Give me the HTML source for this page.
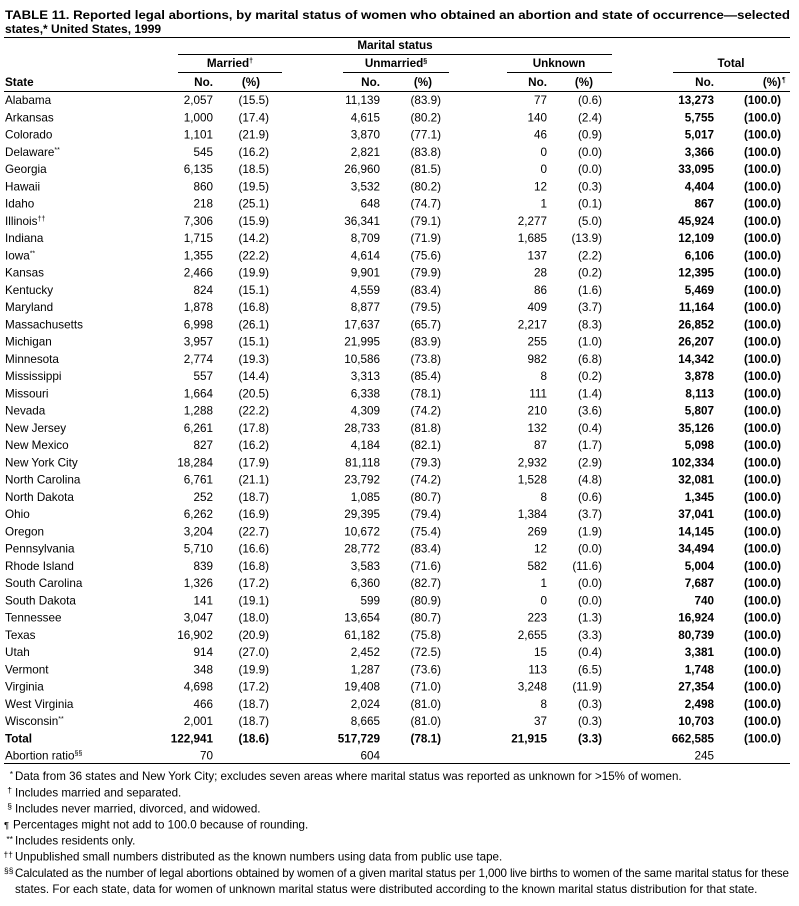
<!DOCTYPE html>
<html><head><meta charset="utf-8"><style>
html,body{margin:0;padding:0;background:#fff}
svg{display:block}
text{font-family:"Liberation Sans",Arial,sans-serif;font-size:11.7px;fill:#000}
.b{font-weight:bold}
.e{text-anchor:end}
.m{text-anchor:middle}
.s{font-size:7px}
.f{font-size:11.6px}
</style></head><body>
<svg width="799" height="906" viewBox="0 0 799 906" xmlns="http://www.w3.org/2000/svg">
<rect width="799" height="906" fill="#fff"/>
<text class="b" x="5" y="19" style="font-size:12px" textLength="785" lengthAdjust="spacingAndGlyphs">TABLE 11. Reported legal abortions, by marital status of women who obtained an abortion and state of occurrence—selected</text>
<text class="b" x="5" y="33" style="font-size:12px">states,* United States, 1999</text>
<rect x="4" y="37" width="786" height="1" fill="#000"/>
<text class="b m" x="395" y="49">Marital status</text>
<rect x="178" y="54" width="434" height="1" fill="#000"/>
<text class="b m" x="230" y="67">Married<tspan class="s" dy="-4">†</tspan></text>
<text class="b m" x="396" y="67">Unmarried<tspan class="s" dy="-4">§</tspan></text>
<text class="b m" x="559" y="67">Unknown</text>
<text class="b m" x="731" y="67">Total</text>
<rect x="178" y="72" width="104" height="1" fill="#000"/>
<rect x="343" y="72" width="106" height="1" fill="#000"/>
<rect x="507" y="72" width="105" height="1" fill="#000"/>
<rect x="673" y="72" width="117" height="1" fill="#000"/>
<g transform="translate(0,86)">
<text class="b" x="5">State</text>
<text class="b e" x="213">No.</text><text class="b e" x="260">(%)</text>
<text class="b e" x="380">No.</text><text class="b e" x="432">(%)</text>
<text class="b e" x="547">No.</text><text class="b e" x="593">(%)</text>
<text class="b e" x="714">No.</text><text class="b e" x="781">(%)</text><text class="s" x="782" y="-4">¶</text>
</g>
<rect x="4" y="91" width="786" height="1" fill="#000"/>

<g transform="translate(0,104.2)"><text x="5">Alabama</text><text class="e" x="213">2,057</text><text class="e" x="269">(15.5)</text><text class="e" x="380">11,139</text><text class="e" x="441">(83.9)</text><text class="e" x="547">77</text><text class="e" x="602">(0.6)</text><text class="e b" x="714">13,273</text><text class="e b" x="781">(100.0)</text></g>
<g transform="translate(0,121.45)"><text x="5">Arkansas</text><text class="e" x="213">1,000</text><text class="e" x="269">(17.4)</text><text class="e" x="380">4,615</text><text class="e" x="441">(80.2)</text><text class="e" x="547">140</text><text class="e" x="602">(2.4)</text><text class="e b" x="714">5,755</text><text class="e b" x="781">(100.0)</text></g>
<g transform="translate(0,138.7)"><text x="5">Colorado</text><text class="e" x="213">1,101</text><text class="e" x="269">(21.9)</text><text class="e" x="380">3,870</text><text class="e" x="441">(77.1)</text><text class="e" x="547">46</text><text class="e" x="602">(0.9)</text><text class="e b" x="714">5,017</text><text class="e b" x="781">(100.0)</text></g>
<g transform="translate(0,155.95)"><text x="5">Delaware<tspan class="s" dy="-4">**</tspan></text><text class="e" x="213">545</text><text class="e" x="269">(16.2)</text><text class="e" x="380">2,821</text><text class="e" x="441">(83.8)</text><text class="e" x="547">0</text><text class="e" x="602">(0.0)</text><text class="e b" x="714">3,366</text><text class="e b" x="781">(100.0)</text></g>
<g transform="translate(0,173.2)"><text x="5">Georgia</text><text class="e" x="213">6,135</text><text class="e" x="269">(18.5)</text><text class="e" x="380">26,960</text><text class="e" x="441">(81.5)</text><text class="e" x="547">0</text><text class="e" x="602">(0.0)</text><text class="e b" x="714">33,095</text><text class="e b" x="781">(100.0)</text></g>
<g transform="translate(0,190.45)"><text x="5">Hawaii</text><text class="e" x="213">860</text><text class="e" x="269">(19.5)</text><text class="e" x="380">3,532</text><text class="e" x="441">(80.2)</text><text class="e" x="547">12</text><text class="e" x="602">(0.3)</text><text class="e b" x="714">4,404</text><text class="e b" x="781">(100.0)</text></g>
<g transform="translate(0,207.7)"><text x="5">Idaho</text><text class="e" x="213">218</text><text class="e" x="269">(25.1)</text><text class="e" x="380">648</text><text class="e" x="441">(74.7)</text><text class="e" x="547">1</text><text class="e" x="602">(0.1)</text><text class="e b" x="714">867</text><text class="e b" x="781">(100.0)</text></g>
<g transform="translate(0,224.95)"><text x="5">Illinois<tspan class="s" dy="-4">††</tspan></text><text class="e" x="213">7,306</text><text class="e" x="269">(15.9)</text><text class="e" x="380">36,341</text><text class="e" x="441">(79.1)</text><text class="e" x="547">2,277</text><text class="e" x="602">(5.0)</text><text class="e b" x="714">45,924</text><text class="e b" x="781">(100.0)</text></g>
<g transform="translate(0,242.2)"><text x="5">Indiana</text><text class="e" x="213">1,715</text><text class="e" x="269">(14.2)</text><text class="e" x="380">8,709</text><text class="e" x="441">(71.9)</text><text class="e" x="547">1,685</text><text class="e" x="602">(13.9)</text><text class="e b" x="714">12,109</text><text class="e b" x="781">(100.0)</text></g>
<g transform="translate(0,259.45)"><text x="5">Iowa<tspan class="s" dy="-4">**</tspan></text><text class="e" x="213">1,355</text><text class="e" x="269">(22.2)</text><text class="e" x="380">4,614</text><text class="e" x="441">(75.6)</text><text class="e" x="547">137</text><text class="e" x="602">(2.2)</text><text class="e b" x="714">6,106</text><text class="e b" x="781">(100.0)</text></g>
<g transform="translate(0,276.7)"><text x="5">Kansas</text><text class="e" x="213">2,466</text><text class="e" x="269">(19.9)</text><text class="e" x="380">9,901</text><text class="e" x="441">(79.9)</text><text class="e" x="547">28</text><text class="e" x="602">(0.2)</text><text class="e b" x="714">12,395</text><text class="e b" x="781">(100.0)</text></g>
<g transform="translate(0,293.95)"><text x="5">Kentucky</text><text class="e" x="213">824</text><text class="e" x="269">(15.1)</text><text class="e" x="380">4,559</text><text class="e" x="441">(83.4)</text><text class="e" x="547">86</text><text class="e" x="602">(1.6)</text><text class="e b" x="714">5,469</text><text class="e b" x="781">(100.0)</text></g>
<g transform="translate(0,311.2)"><text x="5">Maryland</text><text class="e" x="213">1,878</text><text class="e" x="269">(16.8)</text><text class="e" x="380">8,877</text><text class="e" x="441">(79.5)</text><text class="e" x="547">409</text><text class="e" x="602">(3.7)</text><text class="e b" x="714">11,164</text><text class="e b" x="781">(100.0)</text></g>
<g transform="translate(0,328.45)"><text x="5">Massachusetts</text><text class="e" x="213">6,998</text><text class="e" x="269">(26.1)</text><text class="e" x="380">17,637</text><text class="e" x="441">(65.7)</text><text class="e" x="547">2,217</text><text class="e" x="602">(8.3)</text><text class="e b" x="714">26,852</text><text class="e b" x="781">(100.0)</text></g>
<g transform="translate(0,345.7)"><text x="5">Michigan</text><text class="e" x="213">3,957</text><text class="e" x="269">(15.1)</text><text class="e" x="380">21,995</text><text class="e" x="441">(83.9)</text><text class="e" x="547">255</text><text class="e" x="602">(1.0)</text><text class="e b" x="714">26,207</text><text class="e b" x="781">(100.0)</text></g>
<g transform="translate(0,362.95)"><text x="5">Minnesota</text><text class="e" x="213">2,774</text><text class="e" x="269">(19.3)</text><text class="e" x="380">10,586</text><text class="e" x="441">(73.8)</text><text class="e" x="547">982</text><text class="e" x="602">(6.8)</text><text class="e b" x="714">14,342</text><text class="e b" x="781">(100.0)</text></g>
<g transform="translate(0,380.2)"><text x="5">Mississippi</text><text class="e" x="213">557</text><text class="e" x="269">(14.4)</text><text class="e" x="380">3,313</text><text class="e" x="441">(85.4)</text><text class="e" x="547">8</text><text class="e" x="602">(0.2)</text><text class="e b" x="714">3,878</text><text class="e b" x="781">(100.0)</text></g>
<g transform="translate(0,397.45)"><text x="5">Missouri</text><text class="e" x="213">1,664</text><text class="e" x="269">(20.5)</text><text class="e" x="380">6,338</text><text class="e" x="441">(78.1)</text><text class="e" x="547">111</text><text class="e" x="602">(1.4)</text><text class="e b" x="714">8,113</text><text class="e b" x="781">(100.0)</text></g>
<g transform="translate(0,414.7)"><text x="5">Nevada</text><text class="e" x="213">1,288</text><text class="e" x="269">(22.2)</text><text class="e" x="380">4,309</text><text class="e" x="441">(74.2)</text><text class="e" x="547">210</text><text class="e" x="602">(3.6)</text><text class="e b" x="714">5,807</text><text class="e b" x="781">(100.0)</text></g>
<g transform="translate(0,431.95)"><text x="5">New Jersey</text><text class="e" x="213">6,261</text><text class="e" x="269">(17.8)</text><text class="e" x="380">28,733</text><text class="e" x="441">(81.8)</text><text class="e" x="547">132</text><text class="e" x="602">(0.4)</text><text class="e b" x="714">35,126</text><text class="e b" x="781">(100.0)</text></g>
<g transform="translate(0,449.2)"><text x="5">New Mexico</text><text class="e" x="213">827</text><text class="e" x="269">(16.2)</text><text class="e" x="380">4,184</text><text class="e" x="441">(82.1)</text><text class="e" x="547">87</text><text class="e" x="602">(1.7)</text><text class="e b" x="714">5,098</text><text class="e b" x="781">(100.0)</text></g>
<g transform="translate(0,466.45)"><text x="5">New York City</text><text class="e" x="213">18,284</text><text class="e" x="269">(17.9)</text><text class="e" x="380">81,118</text><text class="e" x="441">(79.3)</text><text class="e" x="547">2,932</text><text class="e" x="602">(2.9)</text><text class="e b" x="714">102,334</text><text class="e b" x="781">(100.0)</text></g>
<g transform="translate(0,483.7)"><text x="5">North Carolina</text><text class="e" x="213">6,761</text><text class="e" x="269">(21.1)</text><text class="e" x="380">23,792</text><text class="e" x="441">(74.2)</text><text class="e" x="547">1,528</text><text class="e" x="602">(4.8)</text><text class="e b" x="714">32,081</text><text class="e b" x="781">(100.0)</text></g>
<g transform="translate(0,500.95)"><text x="5">North Dakota</text><text class="e" x="213">252</text><text class="e" x="269">(18.7)</text><text class="e" x="380">1,085</text><text class="e" x="441">(80.7)</text><text class="e" x="547">8</text><text class="e" x="602">(0.6)</text><text class="e b" x="714">1,345</text><text class="e b" x="781">(100.0)</text></g>
<g transform="translate(0,518.2)"><text x="5">Ohio</text><text class="e" x="213">6,262</text><text class="e" x="269">(16.9)</text><text class="e" x="380">29,395</text><text class="e" x="441">(79.4)</text><text class="e" x="547">1,384</text><text class="e" x="602">(3.7)</text><text class="e b" x="714">37,041</text><text class="e b" x="781">(100.0)</text></g>
<g transform="translate(0,535.45)"><text x="5">Oregon</text><text class="e" x="213">3,204</text><text class="e" x="269">(22.7)</text><text class="e" x="380">10,672</text><text class="e" x="441">(75.4)</text><text class="e" x="547">269</text><text class="e" x="602">(1.9)</text><text class="e b" x="714">14,145</text><text class="e b" x="781">(100.0)</text></g>
<g transform="translate(0,552.7)"><text x="5">Pennsylvania</text><text class="e" x="213">5,710</text><text class="e" x="269">(16.6)</text><text class="e" x="380">28,772</text><text class="e" x="441">(83.4)</text><text class="e" x="547">12</text><text class="e" x="602">(0.0)</text><text class="e b" x="714">34,494</text><text class="e b" x="781">(100.0)</text></g>
<g transform="translate(0,569.95)"><text x="5">Rhode Island</text><text class="e" x="213">839</text><text class="e" x="269">(16.8)</text><text class="e" x="380">3,583</text><text class="e" x="441">(71.6)</text><text class="e" x="547">582</text><text class="e" x="602">(11.6)</text><text class="e b" x="714">5,004</text><text class="e b" x="781">(100.0)</text></g>
<g transform="translate(0,587.2)"><text x="5">South Carolina</text><text class="e" x="213">1,326</text><text class="e" x="269">(17.2)</text><text class="e" x="380">6,360</text><text class="e" x="441">(82.7)</text><text class="e" x="547">1</text><text class="e" x="602">(0.0)</text><text class="e b" x="714">7,687</text><text class="e b" x="781">(100.0)</text></g>
<g transform="translate(0,604.45)"><text x="5">South Dakota</text><text class="e" x="213">141</text><text class="e" x="269">(19.1)</text><text class="e" x="380">599</text><text class="e" x="441">(80.9)</text><text class="e" x="547">0</text><text class="e" x="602">(0.0)</text><text class="e b" x="714">740</text><text class="e b" x="781">(100.0)</text></g>
<g transform="translate(0,621.7)"><text x="5">Tennessee</text><text class="e" x="213">3,047</text><text class="e" x="269">(18.0)</text><text class="e" x="380">13,654</text><text class="e" x="441">(80.7)</text><text class="e" x="547">223</text><text class="e" x="602">(1.3)</text><text class="e b" x="714">16,924</text><text class="e b" x="781">(100.0)</text></g>
<g transform="translate(0,638.95)"><text x="5">Texas</text><text class="e" x="213">16,902</text><text class="e" x="269">(20.9)</text><text class="e" x="380">61,182</text><text class="e" x="441">(75.8)</text><text class="e" x="547">2,655</text><text class="e" x="602">(3.3)</text><text class="e b" x="714">80,739</text><text class="e b" x="781">(100.0)</text></g>
<g transform="translate(0,656.2)"><text x="5">Utah</text><text class="e" x="213">914</text><text class="e" x="269">(27.0)</text><text class="e" x="380">2,452</text><text class="e" x="441">(72.5)</text><text class="e" x="547">15</text><text class="e" x="602">(0.4)</text><text class="e b" x="714">3,381</text><text class="e b" x="781">(100.0)</text></g>
<g transform="translate(0,673.45)"><text x="5">Vermont</text><text class="e" x="213">348</text><text class="e" x="269">(19.9)</text><text class="e" x="380">1,287</text><text class="e" x="441">(73.6)</text><text class="e" x="547">113</text><text class="e" x="602">(6.5)</text><text class="e b" x="714">1,748</text><text class="e b" x="781">(100.0)</text></g>
<g transform="translate(0,690.7)"><text x="5">Virginia</text><text class="e" x="213">4,698</text><text class="e" x="269">(17.2)</text><text class="e" x="380">19,408</text><text class="e" x="441">(71.0)</text><text class="e" x="547">3,248</text><text class="e" x="602">(11.9)</text><text class="e b" x="714">27,354</text><text class="e b" x="781">(100.0)</text></g>
<g transform="translate(0,707.95)"><text x="5">West Virginia</text><text class="e" x="213">466</text><text class="e" x="269">(18.7)</text><text class="e" x="380">2,024</text><text class="e" x="441">(81.0)</text><text class="e" x="547">8</text><text class="e" x="602">(0.3)</text><text class="e b" x="714">2,498</text><text class="e b" x="781">(100.0)</text></g>
<g transform="translate(0,725.2)"><text x="5">Wisconsin<tspan class="s" dy="-4">**</tspan></text><text class="e" x="213">2,001</text><text class="e" x="269">(18.7)</text><text class="e" x="380">8,665</text><text class="e" x="441">(81.0)</text><text class="e" x="547">37</text><text class="e" x="602">(0.3)</text><text class="e b" x="714">10,703</text><text class="e b" x="781">(100.0)</text></g>
<g transform="translate(0,742.45)"><text class="b" x="5">Total</text><text class="e b" x="213">122,941</text><text class="e b" x="269">(18.6)</text><text class="e b" x="380">517,729</text><text class="e b" x="441">(78.1)</text><text class="e b" x="547">21,915</text><text class="e b" x="602">(3.3)</text><text class="e b" x="714">662,585</text><text class="e b" x="781">(100.0)</text></g>
<g transform="translate(0,759.7)"><text x="5">Abortion ratio<tspan class="s" dy="-4">§§</tspan></text><text class="e" x="213">70</text><text class="e" x="380">604</text><text class="e" x="714">245</text></g>
<rect x="4" y="763" width="786" height="1" fill="#000"/>

<text class="s" x="13" y="777" style="font-size:8.5px;text-anchor:end">*</text><text class="f" x="15" y="780.2">Data from 36 states and New York City; excludes seven areas where marital status was reported as unknown for &gt;15% of women.</text>
<text class="s" x="12" y="793" style="font-size:8.5px;text-anchor:end">†</text><text class="f" x="15" y="796.3">Includes married and separated.</text>
<text class="s" x="12" y="809" style="font-size:8.5px;text-anchor:end">§</text><text class="f" x="15" y="812.4">Includes never married, divorced, and widowed.</text>
<text x="4" y="828.5" style="font-size:9.5px">¶</text><text class="f" x="13" y="828.5">Percentages might not add to 100.0 because of rounding.</text>
<text class="s" x="13" y="842" style="font-size:8.5px;text-anchor:end">**</text><text class="f" x="15" y="844.6">Includes residents only.</text>
<text class="s" x="13" y="857.5" style="font-size:8.5px;text-anchor:end">††</text><text class="f" x="15" y="860.7">Unpublished small numbers distributed as the known numbers using data from public use tape.</text>
<text class="s" x="13.5" y="873.5" style="font-size:8.5px;text-anchor:end">§§</text><text class="f" x="15" y="876.8" textLength="774" lengthAdjust="spacing">Calculated as the number of legal abortions obtained by women of a given marital status per 1,000 live births to women of the same marital status for these</text>
<text class="f" x="15" y="892.9">states. For each state, data for women of unknown marital status were distributed according to the known marital status distribution for that state.</text>
</svg>
</body></html>
